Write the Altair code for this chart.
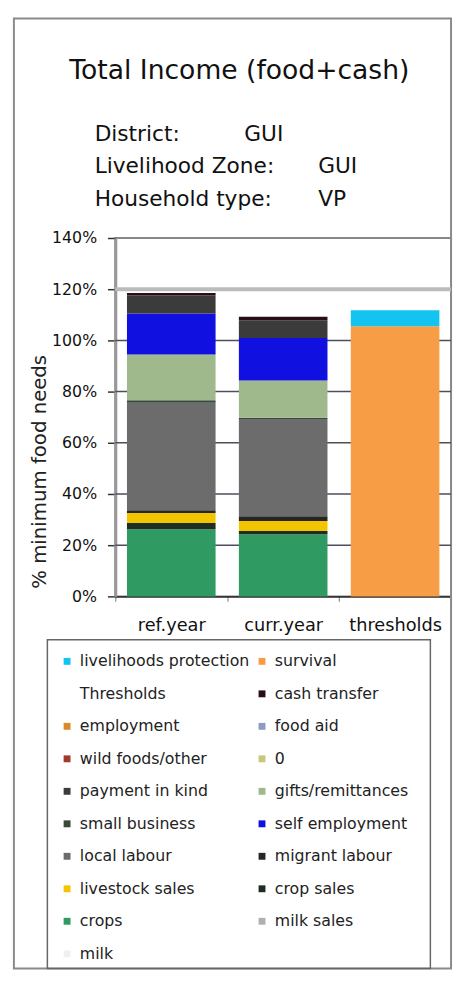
import altair as alt
import pandas as pd

title_text = "Total Income (food+cash)"
info_labels = ["District:", "Livelihood Zone:", "Household type:"]
info_values = ["GUI", "GUI", "VP"]
y_title = "% minimum food needs"

categories = ["ref.year", "curr.year", "thresholds"]

# stacking order, bottom to top
stack_series = ["milk", "milk sales", "crops", "crop sales", "livestock sales",
                "migrant labour", "local labour", "small business", "gifts/remittances",
                "self employment", "payment in kind", "0", "wild foods/other", "food aid",
                "employment", "cash transfer", "Thresholds", "survival",
                "livelihoods protection"]
ref_year = [0, 0, 26.2, 2.5, 3.9, 1.0, 42.0, 1.0, 17.9, 16.0, 7.0, 0, 0, 0, 0, 1.0, 0, 0, 0]
curr_year = [0, 0, 24.3, 1.2, 3.9, 1.9, 38.0, 0.5, 14.5, 16.6, 7.0, 0, 0, 0, 0, 1.3, 0, 0, 0]
thresholds = [0, 0, 0, 0, 0, 0, 0, 0, 0, 0, 0, 0, 0, 0, 0, 0, 0, 105.5, 6.3]

# legend entries, left column then right column
legend_left = ["livelihoods protection", "Thresholds", "employment", "wild foods/other",
               "payment in kind", "small business", "local labour", "livestock sales",
               "crops", "milk"]
legend_right = ["survival", "cash transfer", "food aid", "0", "gifts/remittances",
                "self employment", "migrant labour", "crop sales", "milk sales"]
left_colors = ["#14C4F0", "transparent", "#D98A2B", "#A03A2A", "#3B3B3B",
               "#3A4A3A", "#6C6C6C", "#F2C500", "#2F9A62", "#F0F0F0"]
right_colors = ["#F79D45", "#2A0E16", "#8A9CC0", "#C8C878", "#A0B98C",
                "#1010E0", "#262626", "#1E2E22", "#B0B0B0"]
legend_order = legend_left + legend_right
legend_colors = left_colors + right_colors

y_ticks = [0, 20, 40, 60, 80, 100, 120, 140]
grid_values = [20, 40, 60, 80, 100]
upper_line = [120]

rows = []
for i, s in enumerate(stack_series):
    for cat, vals in zip(categories, [ref_year, curr_year, thresholds]):
        rows.append({"cat": cat, "series": s, "value": vals[i], "ord": i})
df = pd.DataFrame(rows)

FONT = "DejaVu Sans"
W, H = 341, 364

y_scale = alt.Scale(domain=[0, 140], nice=False)
y_axis = alt.Axis(values=y_ticks, labelExpr="datum.value + '%'", grid=False,
                  domainColor="#999999", domainWidth=3, tickColor="#333333",
                  tickSize=8, tickWidth=1.5, labelFontSize=16, labelFont=FONT,
                  labelColor="#111111", labelPadding=11, titleFontSize=20,
                  titleFont=FONT, titleFontWeight="normal", titleColor="#222222",
                  titleX=-77, titleY=237, titleBaseline="middle", titleAlign="center")

bars = alt.Chart(df).mark_bar(size=90).encode(
    x=alt.X("cat:N", sort=categories, scale=alt.Scale(paddingInner=0, paddingOuter=0),
            axis=alt.Axis(title=None, labelAngle=0, labelFontSize=18, labelFont=FONT,
                          labelColor="#111111", domainColor="#333333", domainWidth=2,
                          tickBand="extent", tickColor="#777777", tickSize=5,
                          labelPadding=30, labelBaseline="alphabetic")),
    y=alt.Y("value:Q", stack="zero", scale=y_scale, axis=y_axis, title=y_title),
    color=alt.Color("series:N", scale=alt.Scale(domain=legend_order, range=legend_colors),
                    legend=alt.Legend(title=None, orient="none", legendX=-57, legendY=422,
                                      columns=2, symbolType="square", symbolSize=49,
                                      symbolStrokeWidth=0, labelFontSize=16, labelFont=FONT,
                                      labelColor="#222222", labelLimit=300, labelOffset=5,
                                      rowPadding=17, columnPadding=4)),
    order=alt.Order("ord:Q", sort="ascending"),
)

grid = alt.Chart(pd.DataFrame({"value": grid_values})).mark_rule(
    color="#4A4F5C", strokeWidth=1.5).encode(
    y=alt.Y("value:Q", scale=y_scale, axis=y_axis, title=y_title))

top_rule = alt.Chart(pd.DataFrame({"value": upper_line})).mark_rule(
    color="#BBBBBB", strokeWidth=4).encode(
    y=alt.Y("value:Q", scale=y_scale, axis=y_axis, title=y_title))

one = pd.DataFrame({"a": [0]})
frame = alt.Chart(one).mark_rect(fillOpacity=0, stroke="#8A8A8A", strokeWidth=2).encode(
    x=alt.value(-103), x2=alt.value(341), y=alt.value(-223), y2=alt.value(742))
legend_box = alt.Chart(one).mark_rect(fillOpacity=0, stroke="#666666", strokeWidth=1.5).encode(
    x=alt.value(-69), x2=alt.value(320), y=alt.value(408), y2=alt.value(742))

title = alt.Chart(pd.DataFrame({"t": [title_text]})).mark_text(
    align="center", baseline="alphabetic", fontSize=27, font=FONT, color="#111111").encode(
    x=alt.value(126), y=alt.value(-162), text="t:N")

info_layers = []
info_y = [-99, -66, -33]
value_x = [131, 206, 206]
for i in range(3):
    info_layers.append(alt.Chart(pd.DataFrame({"t": [info_labels[i]]})).mark_text(
        align="left", baseline="alphabetic", fontSize=22, font=FONT, color="#111111").encode(
        x=alt.value(-21), y=alt.value(info_y[i]), text="t:N"))
    info_layers.append(alt.Chart(pd.DataFrame({"t": [info_values[i]]})).mark_text(
        align="left", baseline="alphabetic", fontSize=22, font=FONT, color="#111111").encode(
        x=alt.value(value_x[i]), y=alt.value(info_y[i]), text="t:N"))

chart = alt.layer(frame, legend_box, grid, top_rule, bars, title, *info_layers).properties(
    width=W, height=H,
    autosize=alt.AutoSizeParams(type="none"),
    padding={"left": 109, "top": 226, "right": 3, "bottom": 380},
    background="white",
).configure_view(stroke="#888888", strokeWidth=2)

chart.save("out.html", embed_options={"renderer": "svg", "actions": False})
